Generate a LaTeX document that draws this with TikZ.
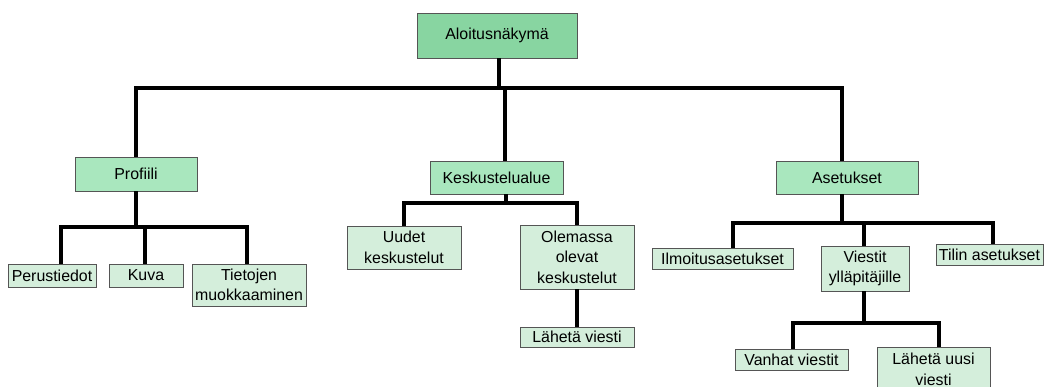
\documentclass[tikz,border=0pt]{standalone}
\usepackage{fontspec}
\setmainfont{Liberation Sans}
\definecolor{lvA}{HTML}{88D5A1}
\definecolor{lvB}{HTML}{A9E7BE}
\definecolor{lvC}{HTML}{D4EEDB}
\definecolor{bordc}{HTML}{555555}
\begin{document}
\begin{tikzpicture}[x=1pt,y=-1pt,
  box/.style={draw=bordc,line width=0.9pt,rectangle,inner sep=0pt,align=center,
    font=\fontsize{15.9}{20.5}\selectfont},
  boxA/.style={box,fill=lvA},
  boxB/.style={box,fill=lvB},
  boxC/.style={box,fill=lvC},
  conn/.style={line width=3.8pt,line join=miter,black}]
\clip (0,0) rectangle (1045,387);
\fill[white] (0,0) rectangle (1045,387);
% nodes
\node[boxA,minimum width=160pt,minimum height=45pt] (top) at (497,35.5) {Aloitusnäkymä};
\node[boxB,minimum width=122pt,minimum height=34pt] (prof) at (136,174) {Profiili};
\node[boxB,minimum width=133pt,minimum height=33pt] (kesk) at (496.5,177.5) {Keskustelualue};
\node[boxB,minimum width=142pt,minimum height=33pt] (aset) at (847,177.5) {Asetukset};
\node[boxC,minimum width=88pt,minimum height=23pt] (perus) at (52,275.5) {Perustiedot};
\node[boxC,minimum width=74pt,minimum height=23pt] (kuva) at (146,275.5) {Kuva};
\node[boxC,minimum width=114pt,minimum height=42pt] (tiet) at (249,285) {Tietojen\\muokkaaminen};
\node[boxC,minimum width=114pt,minimum height=43pt] (uudet) at (404,247.5) {Uudet\\keskustelut};
\node[boxC,minimum width=114pt,minimum height=64pt] (olem) at (577,257) {Olemassa\\olevat\\keskustelut};
\node[boxC,minimum width=114pt,minimum height=20pt] (lahv) at (577,337) {Lähetä viesti};
\node[boxC,minimum width=141pt,minimum height=21pt] (ilmo) at (722.5,258.5) {Ilmoitusasetukset};
\node[boxC,minimum width=88pt,minimum height=45pt] (viest) at (865,268.5) {Viestit\\ylläpitäjille};
\node[boxC,minimum width=107pt,minimum height=21pt] (tilin) at (989.5,254.5) {Tilin asetukset};
\node[boxC,minimum width=113pt,minimum height=21pt] (vanh) at (791.5,359.5) {Vanhat viestit};
\node[boxC,minimum width=113pt,minimum height=44pt,text depth=0pt] (lahu) at (933.5,369) {Lähetä uusi\\viesti};
% junction coordinates
\coordinate (b0) at (499,88);
\coordinate (b1) at (136,227);
\coordinate (b2) at (506,203);
\coordinate (b3) at (842,223);
\coordinate (b4) at (864,323);
% connectors
\draw[conn] ([xshift=2pt]top.south) -- (b0);
\draw[conn] (prof.north) |- (b0);
\draw[conn] ([xshift=-5pt]aset.north) |- (b0);
\draw[conn] ([xshift=8.5pt]kesk.north) |- (b0);
\draw[conn] (prof.south) -- (b1);
\draw[conn] ([xshift=9pt]perus.north) |- (b1);
\draw[conn] ([xshift=-1pt]kuva.north) |- (b1);
\draw[conn] ([xshift=-2pt]tiet.north) |- (b1);
\draw[conn] ([xshift=9.5pt]kesk.south) -- (b2);
\draw[conn] (uudet.north) |- (b2);
\draw[conn] (olem.north) |- (b2);
\draw[conn] (olem.south) -- (lahv.north);
\draw[conn] ([xshift=-5pt]aset.south) -- (b3);
\draw[conn] ([xshift=10.5pt]ilmo.north) |- (b3);
\draw[conn] ([xshift=-1pt]viest.north) |- (b3);
\draw[conn] ([xshift=3.5pt]tilin.north) |- (b3);
\draw[conn] ([xshift=-1pt]viest.south) -- (b4);
\draw[conn] ([xshift=1.5pt]vanh.north) |- (b4);
\draw[conn] ([xshift=5.5pt]lahu.north) |- (b4);
\end{tikzpicture}
\end{document}
